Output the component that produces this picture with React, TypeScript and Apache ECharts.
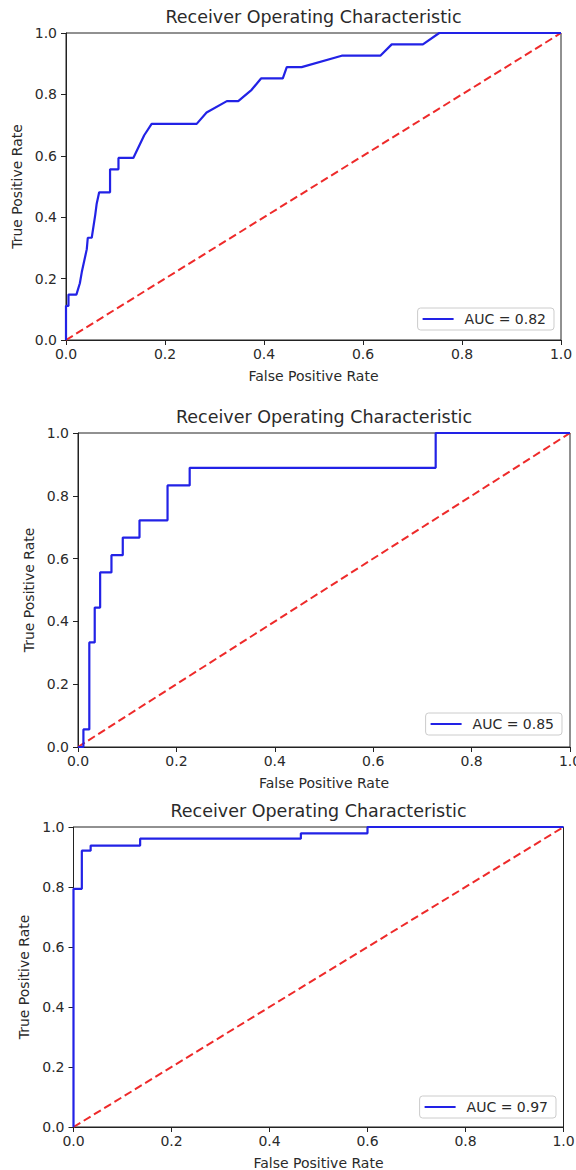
import React, { useEffect, useRef } from "react";
import * as echarts from "echarts";

// ---- Data ----
const ticks = [0, 0.2, 0.4, 0.6, 0.8, 1.0];
const chanceX = [0, 1];
const chanceY = [0, 1];

const fpr1 = [0, 0, 0.005, 0.005, 0.021, 0.028, 0.032, 0.042, 0.044, 0.052, 0.059, 0.062, 0.067, 0.089, 0.089, 0.106, 0.106, 0.136, 0.158, 0.173, 0.264, 0.284, 0.325, 0.348, 0.375, 0.394, 0.438, 0.446, 0.476, 0.557, 0.635, 0.658, 0.721, 0.754, 1];
const tpr1 = [0, 0.111, 0.111, 0.148, 0.148, 0.185, 0.222, 0.296, 0.333, 0.333, 0.407, 0.444, 0.481, 0.481, 0.556, 0.556, 0.593, 0.593, 0.667, 0.704, 0.704, 0.741, 0.778, 0.778, 0.815, 0.852, 0.852, 0.889, 0.889, 0.926, 0.926, 0.963, 0.963, 1, 1];

const fpr2 = [0, 0.011, 0.011, 0.023, 0.023, 0.034, 0.034, 0.045, 0.045, 0.068, 0.068, 0.091, 0.091, 0.125, 0.125, 0.182, 0.182, 0.227, 0.227, 0.727, 0.727, 1];
const tpr2 = [0, 0, 0.056, 0.056, 0.333, 0.333, 0.444, 0.444, 0.556, 0.556, 0.611, 0.611, 0.667, 0.667, 0.722, 0.722, 0.833, 0.833, 0.889, 0.889, 1, 1];

const fpr3 = [0, 0, 0.017, 0.017, 0.035, 0.035, 0.136, 0.136, 0.464, 0.464, 0.6, 0.6, 1];
const tpr3 = [0, 0.794, 0.794, 0.921, 0.921, 0.938, 0.938, 0.961, 0.961, 0.979, 0.979, 1, 1];

const aucLabels = ["AUC = 0.82", "AUC = 0.85", "AUC = 0.97"];
const titleText = "Receiver Operating Characteristic";
const xName = "False Positive Rate";
const yName = "True Positive Rate";

const FONT = "DejaVu Sans";
const TXT = "#2a2a2a";

const zip = (xs: number[], ys: number[]) => xs.map((x, i) => [x, ys[i]]);

const panels = [
  { grid: { left: 66, top: 33, width: 495, height: 307 }, fpr: fpr1, tpr: tpr1, legend: { right: 22, top: 308 } },
  { grid: { left: 78, top: 433, width: 492, height: 314 }, fpr: fpr2, tpr: tpr2, legend: { right: 14, top: 713 } },
  { grid: { left: 73.5, top: 827, width: 490, height: 300 }, fpr: fpr3, tpr: tpr3, legend: { right: 20, top: 1096 } },
];

export default function App() {
  const ref = useRef<HTMLDivElement>(null);
  useEffect(() => {
    if (!ref.current) return;
    const chart = echarts.init(ref.current, undefined, { renderer: "svg" });
    const axisCommon = (i: number) => ({
      gridIndex: i,
      type: "value",
      min: ticks[0],
      max: ticks[ticks.length - 1],
      interval: 0.2,
      splitLine: { show: false },
      axisLine: { show: true, lineStyle: { color: "#222", width: 1 } },
      axisTick: { show: true, length: 5, lineStyle: { color: "#222" } },
      axisLabel: {
        color: TXT,
        fontSize: 14,
        fontFamily: FONT,
        formatter: (v: number) => v.toFixed(1),
        showMinLabel: true,
        showMaxLabel: true,
        hideOverlap: false,
      },
      nameLocation: "middle",
      nameTextStyle: { color: TXT, fontSize: 14, fontFamily: FONT },
    });
    const option: any = {
      animation: false,
      backgroundColor: "#fff",
      title: panels.map((p) => ({
        text: titleText,
        left: p.grid.left + p.grid.width / 2,
        textAlign: "center",
        top: p.grid.top - 25,
        padding: 0,
        textStyle: { fontFamily: FONT, fontSize: 17.5, fontWeight: "normal", color: TXT },
      })),
      grid: panels.map((p) => ({
        ...p.grid,
        show: true,
        borderColor: "#222",
        borderWidth: 1,
        backgroundColor: "transparent",
        containLabel: false,
        outerBoundsMode: "none",
      })),
      xAxis: panels.map((p, i) => ({ ...axisCommon(i), name: xName, nameGap: 29, axisLabel: { ...axisCommon(i).axisLabel, margin: 7 } })),
      yAxis: panels.map((p, i) => ({ ...axisCommon(i), name: yName, nameGap: 42, axisLabel: { ...axisCommon(i).axisLabel, margin: 9 } })),
      legend: panels.map((p, i) => ({
        data: [{ name: aucLabels[i], icon: "rect" }],
        right: p.legend.right,
        top: p.legend.top,
        orient: "horizontal",
        padding: [4, 8, 4, 5],
        itemWidth: 31,
        itemHeight: 2,
        borderColor: "#ccc",
        borderWidth: 1,
        borderRadius: 3,
        backgroundColor: "#fff",
        selectedMode: false,
        textStyle: { color: TXT, fontSize: 14, fontFamily: FONT, padding: [0, 0, 0, 6] },
      })),
      series: panels.flatMap((p, i) => [
        {
          type: "line",
          name: "chance" + i,
          xAxisIndex: i,
          yAxisIndex: i,
          data: zip(chanceX, chanceY),
          symbol: "none",
          lineStyle: { color: "#ee2a2a", width: 2, type: [8, 4] },
          z: 2,
        },
        {
          type: "line",
          name: aucLabels[i],
          xAxisIndex: i,
          yAxisIndex: i,
          data: zip(p.fpr, p.tpr),
          symbol: "none",
          color: "#2222e6",
          lineStyle: { color: "#2222e6", width: 2.2 },
          z: 3,
        },
      ]),
    };
    chart.setOption(option);
    return () => chart.dispose();
  }, []);
  return (
    <div
      ref={ref}
      style={{ position: "absolute", left: 0, top: 0, width: 576, height: 1170, background: "#fff" }}
    />
  );
}
